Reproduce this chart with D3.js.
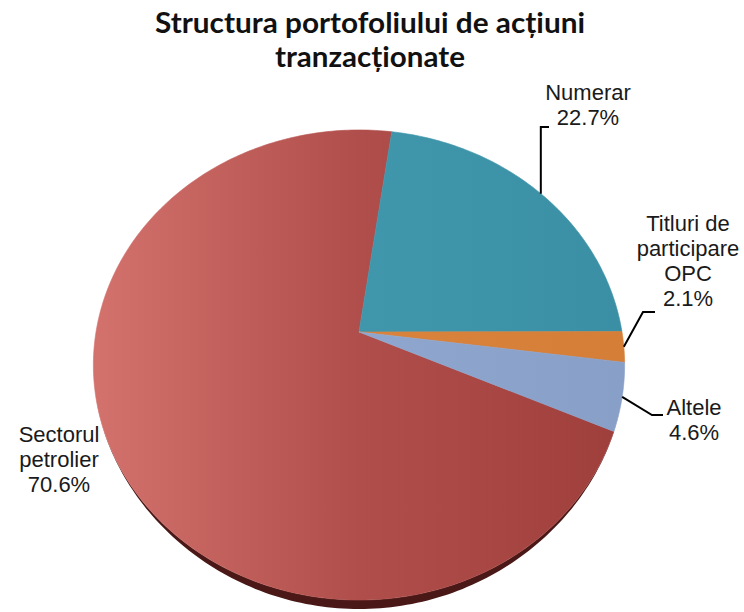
<!DOCTYPE html>
<html>
<head>
<meta charset="utf-8">
<script src="https://cdn.jsdelivr.net/npm/d3@7"></script>
<style>
    body { margin: 0; background: #ffffff; }
    svg { display: block; }
    .graphtitle { font-family: Lato, 'Open Sans', sans-serif; font-weight: bold; font-size: 28px; fill: #111; }
    .slicelabel { font-family: 'Liberation Sans', Arial, sans-serif; font-size: 22px; fill: #1a1a1a; }
</style>
</head>
<body>
<svg class="pieArea"></svg>
<script>
// chart data
var categories = ['Sectorul petrolier', 'Numerar', 'Titluri de participare OPC', 'Altele'];
var values = [70.6, 22.7, 2.1, 4.6];
var labelLines = [['Sectorul', 'petrolier'], ['Numerar'], ['Titluri de', 'participare', 'OPC'], ['Altele']];
var titleLines = ['Structura portofoliului de acțiuni', 'tranzacționate'];

/* Draws the 3D-ish perspective pie */
function draw_pie_portfolio(areaID) {
    var width = 744, height = 612;

    // pie geometry (tilted disc seen in perspective)
    var cx = 359, cy = 332;
    var rx = 263, ry = 230.4, persp = 0.1404;
    var depth = 9;

    var colors = {
        'Sectorul petrolier': ['#d3716d', '#b04e4b', '#9f3f3c'],
        'Numerar': ['#48a1b6', '#4097ac', '#3a8fa4'],
        'Titluri de participare OPC': ['#de8a44', '#d9833d', '#d47e38'],
        'Altele': ['#97afd4', '#8fa7cf', '#889fc8']
    };
    var sideColors = {
        'Sectorul petrolier': '#4a1917',
        'Numerar': '#20535f',
        'Titluri de participare OPC': '#7a4620',
        'Altele': '#4d5d78'
    };

    // label placement: text centre, first baseline, leader elbow/end
    var labelLayout = {
        'Sectorul petrolier': { x: 59, y: 442 },
        'Numerar': { x: 588, y: 100, elbow: [null, 127], end: [549, 127] },
        'Titluri de participare OPC': { x: 688, y: 231, elbow: [643, 312], end: [655, 312] },
        'Altele': { x: 694, y: 415, elbow: [652, 415], end: [663, 415] }
    };

    var svg = d3.select('.' + areaID)
        .attr('width', width)
        .attr('height', height);

    var defs = svg.append('defs');

    // project a point of the unit disc to the screen
    function project(angle, r) {
        var u = Math.sin(angle) * r, v = -Math.cos(angle) * r;
        var s = 1 - persp * v;
        return [cx + rx * u / s, cy + ry * v / s];
    }

    function arcPoints(a0, a1) {
        var pts = [];
        var n = Math.max(2, Math.ceil((a1 - a0) / (Math.PI / 180)));
        for (var i = 0; i <= n; i++) {
            pts.push(project(a0 + (a1 - a0) * i / n, 1));
        }
        return pts;
    }

    var line = d3.line();

    var pie = d3.pie()
        .sort(null)
        .value(function(d) { return d.value; })
        .startAngle(114 * Math.PI / 180)
        .endAngle(114 * Math.PI / 180 + 2 * Math.PI);

    var data = categories.map(function(c, i) {
        return { name: c, value: values[i], lines: labelLines[i] };
    });
    var arcs = pie(data);

    // gradients, lighter on the left
    arcs.forEach(function(d, i) {
        var g = defs.append('linearGradient')
            .attr('id', 'grad' + i)
            .attr('gradientUnits', 'userSpaceOnUse')
            .attr('x1', cx - rx).attr('y1', 0)
            .attr('x2', cx + rx).attr('y2', 0);
        var c = colors[d.data.name];
        g.append('stop').attr('offset', '0%').attr('stop-color', c[0]);
        g.append('stop').attr('offset', '50%').attr('stop-color', c[1]);
        g.append('stop').attr('offset', '100%').attr('stop-color', c[2]);
    });

    // side wall along the front of the disc, thickest at the bottom
    var front0 = Math.PI / 2, front1 = 3 * Math.PI / 2;
    arcs.forEach(function(d) {
        [0, 2 * Math.PI].forEach(function(off) {
            var a0 = Math.max(d.startAngle - off, front0);
            var a1 = Math.min(d.endAngle - off, front1);
            if (a1 <= a0) return;
            var top = arcPoints(a0, a1);
            var bottom = top.map(function(p, k) {
                var ang = a0 + (a1 - a0) * k / (top.length - 1);
                var v = Math.max(0, -Math.cos(ang));
                return [p[0], p[1] + depth * Math.pow(v, 3)];
            }).reverse();
            svg.append('path')
                .attr('d', line(top.concat(bottom)) + 'Z')
                .attr('fill', sideColors[d.data.name]);
        });
    });

    // top faces
    svg.append('g')
        .selectAll('path')
        .data(arcs)
        .enter()
        .append('path')
        .attr('d', function(d) {
            return line([[cx, cy]].concat(arcPoints(d.startAngle, d.endAngle))) + 'Z';
        })
        .attr('fill', function(d, i) { return 'url(#grad' + i + ')'; })
        .attr('stroke', function(d, i) { return 'url(#grad' + i + ')'; })
        .attr('stroke-width', 0.6);

    // leader lines
    arcs.forEach(function(d) {
        var lay = labelLayout[d.data.name];
        if (!lay.end) return;
        var start = project((d.startAngle + d.endAngle) / 2, 1);
        var elbow = [lay.elbow[0] === null ? start[0] : lay.elbow[0], lay.elbow[1]];
        svg.append('path')
            .attr('d', line([start, elbow, lay.end]))
            .attr('fill', 'none')
            .attr('stroke', '#000')
            .attr('stroke-width', 2);
    });

    // labels
    arcs.forEach(function(d) {
        var lay = labelLayout[d.data.name];
        var lines = d.data.lines.concat([d3.format('.1f')(d.data.value) + '%']);
        var t = svg.append('text')
            .attr('class', 'slicelabel')
            .attr('text-anchor', 'middle');
        lines.forEach(function(s, k) {
            t.append('tspan')
                .attr('x', lay.x)
                .attr('y', lay.y + k * 25)
                .text(s);
        });
    });

    // title
    var titleWidths = [430, 190];
    titleLines.forEach(function(s, k) {
        svg.append('text')
            .attr('class', 'graphtitle')
            .attr('x', 370)
            .attr('y', 33 + k * 34)
            .attr('text-anchor', 'middle')
            .attr('textLength', titleWidths[k])
            .attr('lengthAdjust', 'spacingAndGlyphs')
            .text(s);
    });
}

draw_pie_portfolio('pieArea');
</script>
</body>
</html>
